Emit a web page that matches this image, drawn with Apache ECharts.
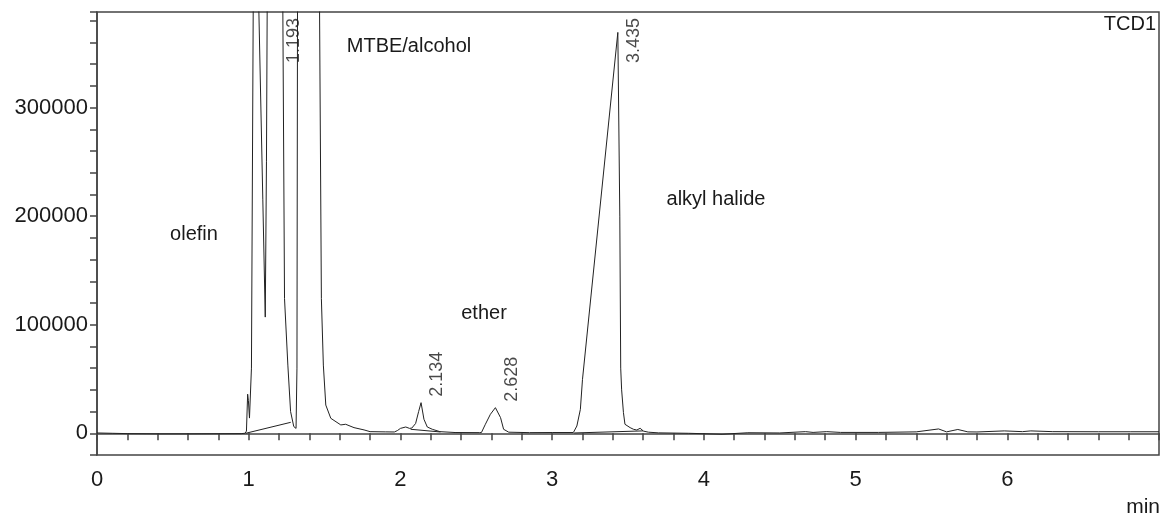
<!DOCTYPE html>
<html>
<head>
    <meta charset="utf-8">
    <script src="https://cdn.jsdelivr.net/npm/echarts/dist/echarts.min.js"></script>
    <style>
        html, body { margin: 0; padding: 0; background: #fff; }
    </style>
</head>
<body>
<div id="tcd-chart" style="width: 1162px;height:517px;"></div>
<script>
  // retention time (min) / detector signal
  var retentionTime = [
    0, 0.1, 0.2, 0.4, 0.6, 0.8, 0.95, 0.975, 0.985, 0.993,
    0.998, 1.005, 1.012, 1.018, 1.03, 1.045, 1.067, 1.093, 1.109, 1.117,
    1.122, 1.193, 1.225, 1.236, 1.258, 1.276, 1.297, 1.305, 1.312, 1.318,
    1.322, 1.39, 1.44, 1.467, 1.479, 1.492, 1.508, 1.541, 1.607, 1.639,
    1.694, 1.76, 1.80, 1.90, 1.96, 1.98, 2.00, 2.035, 2.06, 2.075,
    2.10, 2.12, 2.136, 2.155, 2.177, 2.21, 2.26, 2.36, 2.52, 2.534,
    2.56, 2.593, 2.626, 2.66, 2.68, 2.714, 2.85, 3.00, 3.14, 3.163,
    3.186, 3.20, 3.433, 3.446, 3.452, 3.458, 3.47, 3.48, 3.514, 3.536,
    3.558, 3.58, 3.602, 3.635, 3.70, 3.90, 4.12, 4.29, 4.50, 4.67,
    4.72, 4.81, 4.90, 5.15, 5.40, 5.547, 5.60, 5.674, 5.74, 5.80,
    5.98, 6.10, 6.155, 6.30, 6.60, 6.81, 7.0
  ];
  var signal = [
    300, 0, -300, -500, -500, -400, -300, 0, 2000, 36000,
    30000, 14000, 13000, 60000, 400000, 620000, 388000, 215000, 107000, 250000,
    400000, 900000, 388000, 124000, 62800, 20000, 6200, 4500, 4500, 60000,
    420000, 2000000, 700000, 388000, 124000, 62800, 26000, 13800, 7700, 8300,
    5200, 3100, 1500, 1300, 1200, 2500, 4500, 5800, 4500, 4800,
    9000, 20000, 28200, 12900, 5800, 3700, 1500, 700, 600, 700,
    8300, 17500, 23600, 14400, 3700, 1000, 600, 700, 700, 6700,
    22000, 49700, 369200, 200000, 60000, 40000, 19000, 8300, 5200, 3700,
    3000, 4600, 2000, 1000, 400, 0, -900, 500, 300, 1500,
    800, 1500, 800, 800, 1300, 4000, 1300, 3500, 1300, 1200,
    2200, 1500, 2200, 1500, 1400, 1400, 1400
  ];

  // integration baselines drawn under the peaks
  var baseOlefin = [[0.98, 0], [1.277, 10100]];
  var baseEther = [[2.067, 3700], [2.264, 1200]];
  var baseHalide = [[3.145, 300], [3.60, 2200]];

  // labelled peaks
  var peakTimes = [1.193, 2.134, 2.628, 3.435];
  var peakHeights = [900000, 28200, 23600, 369200];

  var textColor = '#1a1a1a';
  var lineColor = '#222';
  var frameColor = '#444';
  var fontFamily = '"Liberation Sans", Arial, sans-serif';

  var traceData = retentionTime.map(function (t, i) { return [t, signal[i]]; });
  // label sits just above the apex, but never past the top of the plot
  var peakLabelData = peakTimes.map(function (t, i) {
    return [t, Math.min(peakHeights[i] + 5500, 341000)];
  });

  function baseSeries(pts) {
    return {
      type: 'line',
      data: pts,
      symbol: 'none',
      silent: true,
      lineStyle: { color: lineColor, width: 1 }
    };
  }

  var myChart = echarts.init(document.getElementById('tcd-chart'));
  var option = {
    animation: false,
    backgroundColor: '#fff',
    grid: {
      left: 97, right: 3, top: 12, bottom: 62,
      show: true, borderColor: frameColor, borderWidth: 1.5
    },
    xAxis: {
      type: 'value',
      min: 0, max: 7, interval: 0.2,
      axisLine: { show: true, lineStyle: { color: frameColor, width: 1.5 } },
      axisTick: { show: true, length: 7, lineStyle: { color: frameColor, width: 1.5 } },
      splitLine: { show: false },
      axisLabel: {
        margin: 14, fontSize: 22, color: textColor, fontFamily: fontFamily,
        formatter: function (v) {
          var r = Math.round(v);
          return (Math.abs(v - r) < 1e-6 && r < 7) ? String(r) : '';
        }
      }
    },
    yAxis: {
      type: 'value',
      min: -20000, max: 388000, interval: 20000,
      axisLine: { show: true, lineStyle: { color: frameColor, width: 1.5 } },
      axisTick: { show: true, length: 7, lineStyle: { color: frameColor, width: 1.5 } },
      splitLine: { show: false },
      axisLabel: {
        margin: 9, fontSize: 22, color: textColor, fontFamily: fontFamily,
        formatter: function (v) {
          return (v >= 0 && v % 100000 === 0) ? String(v) : '';
        }
      }
    },
    series: [
      {
        type: 'line',
        data: traceData,
        symbol: 'none',
        clip: true,
        lineStyle: { color: lineColor, width: 1 }
      },
      baseSeries(baseOlefin),
      baseSeries(baseEther),
      baseSeries(baseHalide),
      {
        type: 'scatter',
        data: peakLabelData,
        symbolSize: 0,
        silent: true,
        label: {
          show: true,
          position: 'inside',
          rotate: 90,
          align: 'left',
          verticalAlign: 'middle',
          offset: [0, 16],
          fontSize: 18,
          color: textColor,
          fontFamily: fontFamily,
          formatter: function (p) { return p.value[0].toFixed(3); }
        }
      }
    ],
    graphic: [
      { type: 'text', x: 194, y: 234, style: { text: 'olefin', font: '20px ' + fontFamily, fill: textColor, align: 'center', verticalAlign: 'middle' } },
      { type: 'text', x: 409, y: 46, style: { text: 'MTBE/alcohol', font: '20px ' + fontFamily, fill: textColor, align: 'center', verticalAlign: 'middle' } },
      { type: 'text', x: 484, y: 313, style: { text: 'ether', font: '20px ' + fontFamily, fill: textColor, align: 'center', verticalAlign: 'middle' } },
      { type: 'text', x: 716, y: 199, style: { text: 'alkyl halide', font: '20px ' + fontFamily, fill: textColor, align: 'center', verticalAlign: 'middle' } },
      { type: 'text', x: 1156, y: 24, style: { text: 'TCD1', font: '20px ' + fontFamily, fill: textColor, align: 'right', verticalAlign: 'middle' } },
      { type: 'text', x: 1160, y: 507, style: { text: 'min', font: '21px ' + fontFamily, fill: textColor, align: 'right', verticalAlign: 'middle' } }
    ]
  };
  myChart.setOption(option);
</script>
</body>
</html>
